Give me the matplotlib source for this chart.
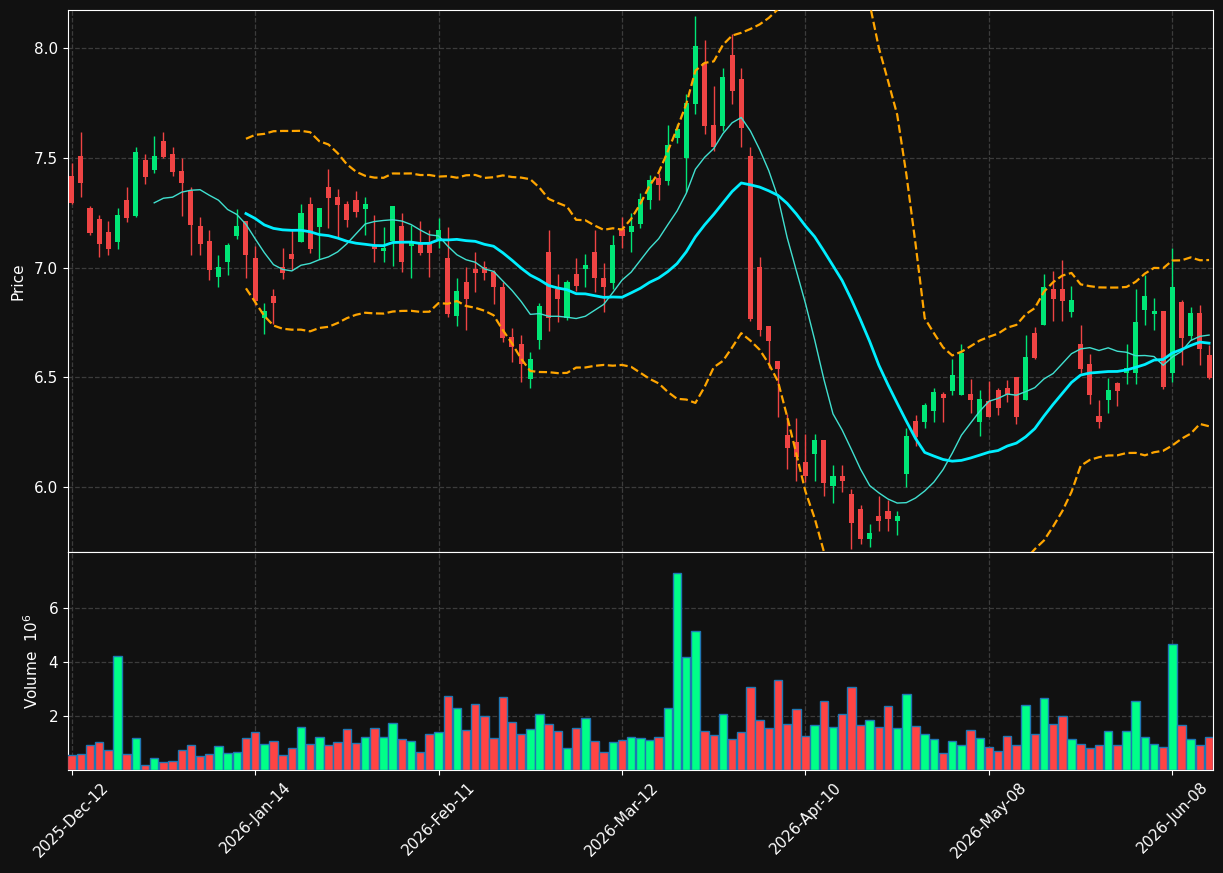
import numpy as np
import pandas as pd
import matplotlib
matplotlib.use('Agg')
import matplotlib.pyplot as plt

# trading calendar (business days minus a few holidays)
holidays = ['2025-12-25', '2025-12-26', '2026-01-01', '2026-02-16', '2026-04-03', '2026-05-25']
dates = pd.bdate_range('2025-12-12', periods=125, freq='C', holidays=holidays)

opens = [7.417, 7.508, 7.271, 7.221, 7.161, 7.117, 7.307, 7.236, 7.490, 7.444,
         7.577, 7.518, 7.440, 7.349, 7.189, 7.120, 6.957, 7.026, 7.145, 7.212,
         7.043, 6.772, 6.871, 7.002, 7.061, 7.117, 7.289, 7.186, 7.367, 7.321,
         7.289, 7.307, 7.268, 7.102, 7.076, 7.120, 7.189, 7.099, 7.113, 7.110,
         7.128, 7.043, 6.780, 6.934, 6.994, 7.001, 6.980, 6.912, 6.683, 6.651,
         6.492, 6.671, 7.072, 6.902, 6.771, 6.970, 6.991, 7.072, 6.953, 6.931,
         7.174, 7.160, 7.196, 7.309, 7.409, 7.394, 7.588, 7.497, 7.746, 7.934,
         7.650, 7.645, 7.969, 7.860, 7.508, 7.001, 6.733, 6.573, 6.239, 6.203,
         6.112, 6.151, 6.213, 6.006, 6.052, 5.969, 5.899, 5.765, 5.867, 5.891,
         5.847, 6.058, 6.300, 6.297, 6.346, 6.424, 6.439, 6.420, 6.422, 6.297,
         6.393, 6.442, 6.451, 6.502, 6.398, 6.701, 6.739, 6.901, 6.901, 6.798,
         6.650, 6.559, 6.322, 6.398, 6.473, 6.520, 6.520, 6.807, 6.789, 6.801,
         6.520, 6.842, 6.690, 6.792, 6.600]
highs = [7.475, 7.616, 7.279, 7.237, 7.212, 7.269, 7.365, 7.549, 7.516, 7.598,
         7.616, 7.548, 7.498, 7.365, 7.228, 7.169, 7.059, 7.110, 7.268, 7.212,
         7.100, 6.840, 6.900, 7.087, 7.170, 7.288, 7.320, 7.271, 7.447, 7.356,
         7.304, 7.347, 7.320, 7.237, 7.186, 7.280, 7.247, 7.193, 7.212, 7.170,
         7.227, 7.186, 6.951, 7.001, 7.070, 7.029, 6.989, 6.936, 6.723, 6.692,
         6.616, 6.840, 7.171, 6.970, 6.944, 7.043, 7.061, 7.171, 7.020, 7.148,
         7.229, 7.248, 7.341, 7.421, 7.429, 7.648, 7.653, 7.790, 8.145, 8.035,
         7.828, 7.909, 8.064, 7.909, 7.547, 7.050, 6.733, 6.575, 6.334, 6.313,
         6.241, 6.240, 6.213, 6.102, 6.102, 5.989, 5.917, 5.830, 5.959, 5.940,
         5.890, 6.269, 6.330, 6.381, 6.450, 6.431, 6.583, 6.651, 6.491, 6.440,
         6.483, 6.450, 6.489, 6.502, 6.691, 6.729, 6.970, 6.985, 7.036, 6.918,
         6.740, 6.608, 6.398, 6.498, 6.479, 6.650, 6.900, 6.965, 6.859, 6.801,
         7.087, 6.851, 6.818, 6.827, 6.646]
lows = [7.289, 7.320, 7.146, 7.049, 7.059, 7.085, 7.209, 7.228, 7.379, 7.429,
        7.500, 7.417, 7.236, 7.059, 7.059, 6.941, 6.910, 6.968, 7.128, 6.950,
        6.828, 6.699, 6.744, 6.948, 6.988, 7.117, 7.068, 7.041, 7.178, 7.140,
        7.186, 7.228, 7.146, 7.027, 7.027, 7.009, 6.979, 6.950, 7.059, 6.957,
        7.087, 6.775, 6.733, 6.715, 6.890, 6.942, 6.832, 6.662, 6.570, 6.480,
        6.453, 6.630, 6.713, 6.750, 6.761, 6.893, 6.909, 6.890, 6.799, 6.901,
        7.087, 7.070, 7.180, 7.268, 7.309, 7.378, 7.567, 7.344, 7.699, 7.608,
        7.531, 7.624, 7.747, 7.549, 6.757, 6.689, 6.540, 6.321, 6.080, 6.028,
        6.024, 6.028, 5.959, 5.927, 5.976, 5.716, 5.739, 5.728, 5.798, 5.798,
        5.780, 5.998, 6.187, 6.269, 6.297, 6.297, 6.420, 6.420, 6.339, 6.231,
        6.320, 6.330, 6.388, 6.289, 6.398, 6.581, 6.739, 6.758, 6.758, 6.775,
        6.521, 6.380, 6.269, 6.339, 6.369, 6.471, 6.471, 6.740, 6.717, 6.447,
        6.479, 6.558, 6.670, 6.558, 6.492]
closes = [7.295, 7.387, 7.158, 7.108, 7.085, 7.239, 7.227, 7.527, 7.414, 7.508,
          7.504, 7.435, 7.387, 7.195, 7.108, 6.989, 7.002, 7.102, 7.189, 7.058,
          6.849, 6.801, 6.839, 6.976, 7.040, 7.248, 7.085, 7.271, 7.318, 7.286,
          7.218, 7.254, 7.289, 7.085, 7.090, 7.280, 7.026, 7.113, 7.067, 7.067,
          7.170, 6.790, 6.893, 6.858, 6.977, 6.977, 6.909, 6.680, 6.639, 6.561,
          6.582, 6.825, 6.771, 6.858, 6.934, 6.918, 7.011, 6.950, 6.909, 7.104,
          7.145, 7.191, 7.311, 7.397, 7.378, 7.559, 7.632, 7.751, 8.010, 7.645,
          7.547, 7.868, 7.806, 7.637, 6.765, 6.716, 6.666, 6.539, 6.179, 6.138,
          6.050, 6.213, 6.017, 6.052, 6.026, 5.838, 5.765, 5.789, 5.847, 5.856,
          5.867, 6.231, 6.228, 6.372, 6.431, 6.407, 6.511, 6.610, 6.398, 6.399,
          6.320, 6.362, 6.426, 6.319, 6.593, 6.588, 6.910, 6.857, 6.848, 6.851,
          6.538, 6.419, 6.296, 6.441, 6.438, 6.541, 6.751, 6.869, 6.801, 6.454,
          6.910, 6.679, 6.792, 6.629, 6.497]
# volume in millions
volumes = [0.56, 0.59, 0.93, 1.04, 0.74, 4.22, 0.59, 1.19, 0.19, 0.44,
           0.30, 0.33, 0.74, 0.93, 0.52, 0.59, 0.89, 0.63, 0.67, 1.19,
           1.41, 0.96, 1.07, 0.56, 0.81, 1.59, 0.96, 1.22, 0.93, 1.04,
           1.52, 1.00, 1.22, 1.56, 1.22, 1.74, 1.15, 1.07, 0.67, 1.33,
           1.41, 2.74, 2.30, 1.48, 2.44, 2.00, 1.19, 2.70, 1.78, 1.33,
           1.52, 2.07, 1.70, 1.44, 0.81, 1.56, 1.93, 1.07, 0.67, 1.04,
           1.11, 1.22, 1.19, 1.11, 1.22, 2.30, 7.30, 4.19, 5.15, 1.44,
           1.30, 2.07, 1.15, 1.41, 3.07, 1.85, 1.56, 3.33, 1.70, 2.26,
           1.26, 1.67, 2.56, 1.59, 2.07, 3.07, 1.67, 1.85, 1.59, 2.37,
           1.56, 2.81, 1.63, 1.33, 1.15, 0.63, 1.07, 0.93, 1.48, 1.19,
           0.85, 0.70, 1.26, 0.93, 2.41, 1.33, 2.67, 1.70, 2.00, 1.15,
           0.96, 0.81, 0.93, 1.44, 0.93, 1.44, 2.56, 1.22, 0.96, 0.85,
           4.67, 1.67, 1.15, 0.93, 1.22]

df = pd.DataFrame({'Open': opens, 'High': highs, 'Low': lows,
                   'Close': closes, 'Volume': volumes}, index=dates)

df['ma10'] = df.Close.rolling(10).mean()
df['ma20'] = df.Close.rolling(20).mean()
sd = df.Close.rolling(20).std(ddof=0)
df['bb_up'] = df.ma20 + 2 * sd
df['bb_dn'] = df.ma20 - 2 * sd

bg = '#111111'
up_c, dn_c = '#00e676', '#ef4444'
vup_c, vdn_c = '#00ff88', '#ff4444'
grid_kw = dict(color='#3c3c3c', linestyle='--', linewidth=0.9)

fig = plt.figure(figsize=(12.23, 8.73), dpi=100, facecolor=bg)
ax1 = fig.add_axes([0.0556, 0.3677, 0.936, 0.6208], facecolor=bg)
ax2 = fig.add_axes([0.0556, 0.1180, 0.936, 0.2497], facecolor=bg, sharex=ax1)

x = np.arange(len(df))
is_up = (df.Close >= df.Open).values
cols = np.where(is_up, up_c, dn_c)

# candles
ax1.vlines(x, df.Low, df.High, colors=cols, linewidth=1.0, zorder=2)
body_lo = np.minimum(df.Open, df.Close)
body_h = np.maximum(np.abs(df.Close - df.Open), 0.004)
ax1.bar(x, body_h, bottom=body_lo, width=0.55, color=cols, linewidth=0, zorder=3)

# overlays
ax1.plot(x, df.ma10, color='#40e0d0', linewidth=1.0, zorder=4)
ax1.plot(x, df.ma20, color='#00eeff', linewidth=2.0, zorder=4)
ax1.plot(x, df.bb_up, color='#ffa500', linewidth=1.6, linestyle='--', zorder=4)
ax1.plot(x, df.bb_dn, color='#ffa500', linewidth=1.6, linestyle='--', zorder=4)

ax1.set_ylim(5.704, 8.173)
ax1.set_yticks([6.0, 6.5, 7.0, 7.5, 8.0])
ax1.set_ylabel('Price', color='white', fontsize=11, labelpad=6)

# volume
vcols = np.where(is_up, vup_c, vdn_c)
ax2.bar(x, df.Volume, width=0.92, color=vcols, edgecolor='#1f77b4', linewidth=1.0, zorder=3)
ax2.set_ylim(0, 8.07)
ax2.set_yticks([2, 4, 6])
ax2.set_ylabel('Volume  $10^6$', color='white', fontsize=11, labelpad=5.5)

ticks = x[::20]
ax2.set_xticks(ticks)
ax2.set_xticklabels([d.strftime('%Y-%b-%d') for d in dates[::20]], rotation=45, fontsize=11)
ax2.set_xlim(-0.4, len(df) - 1 + 0.4)
plt.setp(ax1.get_xticklabels(), visible=False)

for ax in (ax1, ax2):
    ax.grid(True, **grid_kw)
    ax.set_axisbelow(True)
    ax.tick_params(colors='white', labelsize=11)
    for s in ax.spines.values():
        s.set_color('white')
ax1.tick_params(axis='x', length=0)

fig.savefig('out.png', dpi=100, facecolor=bg)
